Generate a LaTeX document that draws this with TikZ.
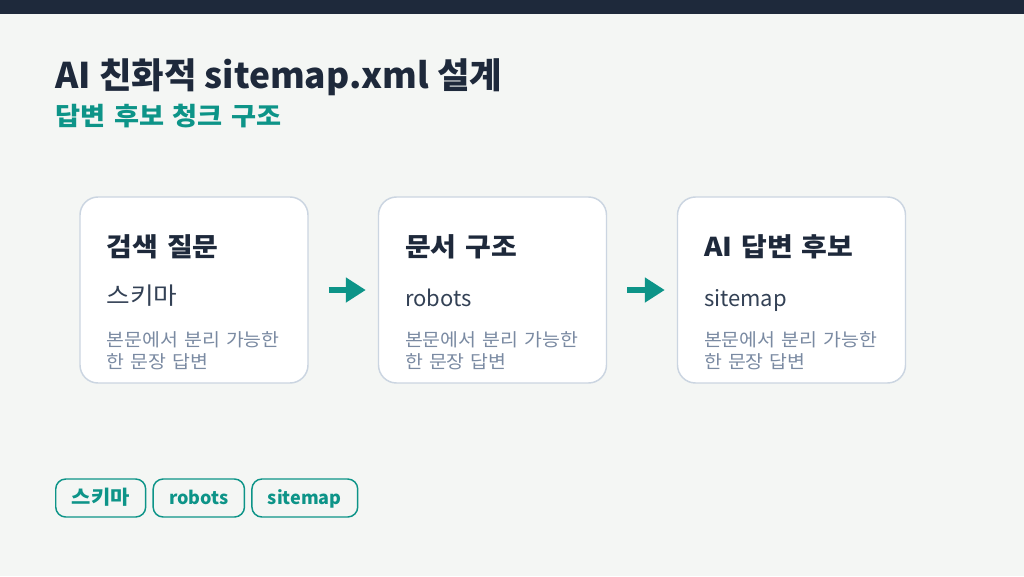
\documentclass[tikz,border=0pt]{standalone}
\usepackage{fontspec}
\setmainfont{Noto Sans CJK KR}
\newfontfamily\kr{Noto Sans CJK KR}[Scale=1.08,FakeStretch=1.08,WordSpace=1.4]
\usetikzlibrary{positioning,arrows.meta}
\definecolor{ink}{HTML}{1E293B}
\definecolor{pagebg}{HTML}{F4F6F4}
\definecolor{tealc}{HTML}{0D9488}
\definecolor{cardline}{HTML}{CBD5E1}
\definecolor{bodyc}{HTML}{334155}
\definecolor{mutedc}{HTML}{7A8AA2}
\tikzset{
  card/.style={draw=cardline,line width=1.1pt,fill=white,rounded corners=13.5pt,
    minimum width=171pt,minimum height=139.5pt},
  cardtitle/.style={anchor=base west,inner sep=0,text=ink,font=\fontsize{18}{22}\kr\bfseries},
  cardbody/.style={anchor=base west,inner sep=0,text=bodyc,font=\fontsize{16.5}{20}\selectfont},
  carddesc/.style={anchor=base west,inner sep=0,text=mutedc,align=left,font=\fontsize{12.5}{16.5}\kr},
  flow/.style={draw=tealc,line width=3.8pt,-{Triangle[length=15pt,width=18pt]},
    shorten <=15pt,shorten >=9pt},
  tag/.style={draw=tealc,line width=1.1pt,rounded corners=7.5pt,text=tealc,
    font=\fontsize{13.5}{16}\selectfont\bfseries,text height=11.7pt,text depth=1.8pt,
    inner ysep=7.5pt,inner xsep=12pt}
}
\begin{document}
\begin{tikzpicture}[x=0.75pt,y=-0.75pt]
\fill[pagebg] (0,0) rectangle (1024,576);
\fill[ink] (0,0) rectangle (1024,14);
% heading
\node[anchor=base west,inner sep=0,text=ink,font=\fontsize{26.5}{32}\selectfont\bfseries] (title) at (55,88) {AI 친화적 sitemap.xml 설계};
\node[anchor=base west,inner sep=0,text=tealc,font=\fontsize{17.5}{21}\kr\bfseries] (subtitle) at (55,125) {답변 후보 청크 구조};
% cards
\node[card] (c1) at (194,290) {};
\node[card] (c2) at (492.5,290) {};
\node[card] (c3) at (791.5,290) {};
\node[cardtitle] (c1title) at ([shift={(27,60)}]c1.north west) {검색 질문};
\node[cardbody] (c1body) at ([shift={(27,108)}]c1.north west) {\kr 스키마};
\node[carddesc] (c1desc) at ([shift={(27,172)}]c1.north west) {본문에서 분리 가능한\\한 문장 답변};
\node[cardtitle] (c2title) at ([shift={(27,60)}]c2.north west) {문서 구조};
\node[cardbody] (c2body) at ([shift={(27,110)}]c2.north west) {robots};
\node[carddesc] (c2desc) at ([shift={(27,172)}]c2.north west) {본문에서 분리 가능한\\한 문장 답변};
\node[cardtitle] (c3title) at ([shift={(27,60)}]c3.north west) {AI 답변 후보};
\node[cardbody] (c3body) at ([shift={(27,110)}]c3.north west) {sitemap};
\node[carddesc] (c3desc) at ([shift={(27,172)}]c3.north west) {본문에서 분리 가능한\\한 문장 답변};
\draw[flow] (c1) -- (c2);
\draw[flow] (c2) -- (c3);
% tags
\node[tag,anchor=west] (t1) at (55,498) {\kr\bfseries 스키마};
\node[tag,right=4.5pt of t1] (t2) {robots};
\node[tag,right=4.5pt of t2] (t3) {sitemap};
\end{tikzpicture}
\end{document}
